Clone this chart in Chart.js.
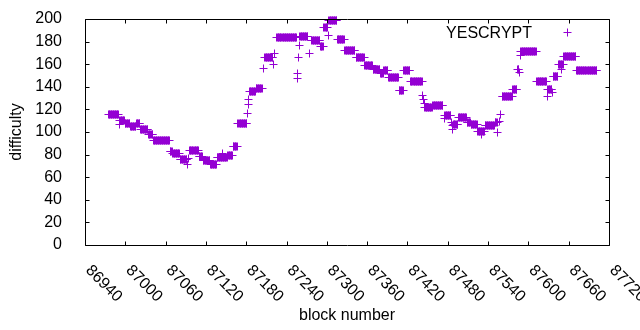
<!DOCTYPE html>
<html><head><meta charset="utf-8">
<script src="https://cdn.jsdelivr.net/npm/chart.js@4/dist/chart.umd.min.js"></script>
<style>html,body{margin:0;padding:0;background:#fff;}canvas{display:block;}</style>
</head><body>
<canvas id="c" width="640" height="330"></canvas>
<script>
// Difficulty runs: blocks runStart..runEnd share runValue
const runStart = [86974,86990,86991,86999,87007,87016,87022,87034,87041,87066,87070,87081,87092,87093,87095,87109,87115,87126,87136,87144,87152,87160,87167,87181,87182,87183,87184,87194,87205,87207,87220,87222,87225,87255,87256,87257,87258,87259,87274,87277,87290,87295,87301,87302,87315,87326,87343,87356,87368,87379,87384,87391,87407,87414,87424,87442,87443,87444,87445,87446,87457,87474,87475,87485,87486,87487,87488,87495,87508,87514,87524,87529,87535,87550,87554,87556,87558,87560,87576,87583,87586,87587,87588,87612,87627,87628,87635,87636,87644,87648,87652,87671];
const runEnd   = [86989,86990,86998,87006,87015,87021,87033,87040,87065,87069,87080,87091,87092,87093,87108,87114,87125,87135,87151,87144,87159,87166,87180,87181,87182,87183,87193,87203,87205,87219,87220,87222,87254,87255,87256,87257,87258,87271,87274,87289,87294,87300,87301,87314,87325,87341,87355,87367,87378,87383,87390,87406,87413,87423,87441,87442,87443,87444,87445,87456,87472,87474,87484,87485,87486,87487,87494,87507,87513,87523,87534,87529,87549,87553,87554,87556,87558,87575,87582,87585,87586,87587,87611,87626,87627,87634,87635,87643,87651,87648,87670,87701];
const runValue = [116,107,111,108,105,108,103,98,93,83,81,76,72,77,84,79,75,72,78,81,80,88,108,117,125,129,136,139,157,166,160,170,184,152,148,166,177,185,170,181,176,193,186,199,182,173,166,159,156,152,155,149,137,155,145,133,129,126,122,122,124,112,115,109,106,103,107,113,109,107,101,98,106,109,100,110,116,132,138,156,153,168,172,145,132,138,135,150,160,156,167,155];
const xTicks = [86940,87000,87060,87120,87180,87240,87300,87360,87420,87480,87540,87600,87660,87720];
const yTicks = [0,20,40,60,80,100,120,140,160,180,200];
const seriesName = 'YESCRYPT';
const xTitle = 'block number';
const yTitle = 'difficulty';

const points = [];
for (let i = 0; i < runStart.length; i++) {
  for (let b = runStart[i]; b <= runEnd[i]; b++) points.push({x: b, y: runValue[i]});
}

const PURPLE = '#9400D3';
const FONT = "'Liberation Sans', Arial, sans-serif";
Chart.defaults.font.family = FONT;
Chart.defaults.font.size = 16;
Chart.defaults.color = '#000';

// snap library-computed point positions to the pixel grid for crisp '+' marks
const snapPlugin = {
  id: 'snap',
  beforeDatasetsDraw(chart) {
    chart.getSortedVisibleDatasetMetas().forEach(meta => {
      meta.data.forEach(el => {
        el.x = Math.round(el.x) + 0.5;
        el.y = Math.round(el.y) + 0.5;
      });
    });
  }
};

const framePlugin = {
  id: 'frame',
  afterDatasetsDraw(chart) {
    const {ctx, scales: {x, y}} = chart;
    const left = x.getPixelForValue(xTicks[0]);
    const right = x.getPixelForValue(xTicks[xTicks.length - 1]);
    const top = y.getPixelForValue(yTicks[yTicks.length - 1]);
    const bottom = y.getPixelForValue(yTicks[0]);
    ctx.save();
    ctx.strokeStyle = '#000';
    ctx.lineWidth = 1;
    const L = Math.round(left) + 0.5, R = Math.round(right) + 0.5;
    const T = Math.round(top) + 0.5, B = Math.round(bottom) + 0.5;
    ctx.beginPath();
    ctx.rect(L, T, R - L, B - T);
    const tl = 4;
    xTicks.forEach(v => {
      const px = Math.round(x.getPixelForValue(v)) + 0.5;
      ctx.moveTo(px, B); ctx.lineTo(px, B - tl);
      ctx.moveTo(px, T); ctx.lineTo(px, T + tl);
    });
    yTicks.forEach(v => {
      const py = Math.round(y.getPixelForValue(v)) + 0.5;
      ctx.moveTo(L, py); ctx.lineTo(L + tl, py);
      ctx.moveTo(R, py); ctx.lineTo(R - tl, py);
    });
    ctx.stroke();
    // rotated x tick labels
    ctx.fillStyle = '#000';
    ctx.font = '16px ' + FONT;
    xTicks.forEach(v => {
      const px = x.getPixelForValue(v);
      ctx.save();
      ctx.translate(px + 3, bottom + 23);
      ctx.rotate(Math.PI / 4);
      ctx.textAlign = 'left';
      ctx.textBaseline = 'middle';
      ctx.fillText(String(v), 0, 0);
      ctx.restore();
    });
    // key (inside, top right)
    ctx.textAlign = 'right';
    ctx.textBaseline = 'alphabetic';
    ctx.fillText(seriesName, right - 77, top + 18.5);
    const sx = Math.round(right - 42) + 0.5, sy = Math.round(top + 13) + 0.5;
    ctx.strokeStyle = PURPLE;
    ctx.beginPath();
    ctx.moveTo(sx - 4, sy); ctx.lineTo(sx + 4, sy);
    ctx.moveTo(sx, sy - 4); ctx.lineTo(sx, sy + 4);
    ctx.stroke();
    ctx.restore();
  }
};

new Chart(document.getElementById('c'), {
  type: 'scatter',
  data: {
    datasets: [{
      label: seriesName,
      data: points,
      pointStyle: 'cross',
      pointRadius: 4,
      pointBorderWidth: 1,
      borderColor: PURPLE,
      backgroundColor: PURPLE,
      clip: false
    }]
  },
  options: {
    responsive: false,
    animation: false,
    devicePixelRatio: 1,
    events: [],
    layout: {autoPadding: false, padding: {top: 19, right: 31, left: 0, bottom: 0}},
    plugins: {legend: {display: false}, tooltip: {enabled: false}},
    scales: {
      x: {
        type: 'linear', min: 86940, max: 87720,
        grid: {display: false}, border: {display: false},
        ticks: {display: false, stepSize: 60},
        title: {display: true, text: xTitle, padding: {top: 0, bottom: 5}, font: {size: 16}},
        afterFit: s => { s.height = 85; }
      },
      y: {
        min: 0, max: 200,
        grid: {display: false}, border: {display: false},
        ticks: {stepSize: 20, padding: 15, color: '#000', font: {size: 16}, autoSkip: false},
        title: {display: true, text: yTitle, padding: {top: 7, bottom: 0}, font: {size: 16}},
        afterFit: s => { s.width = 85; s.paddingTop = 0; s.paddingBottom = 0; }
      }
    }
  },
  plugins: [snapPlugin, framePlugin]
});
</script>
</body></html>
